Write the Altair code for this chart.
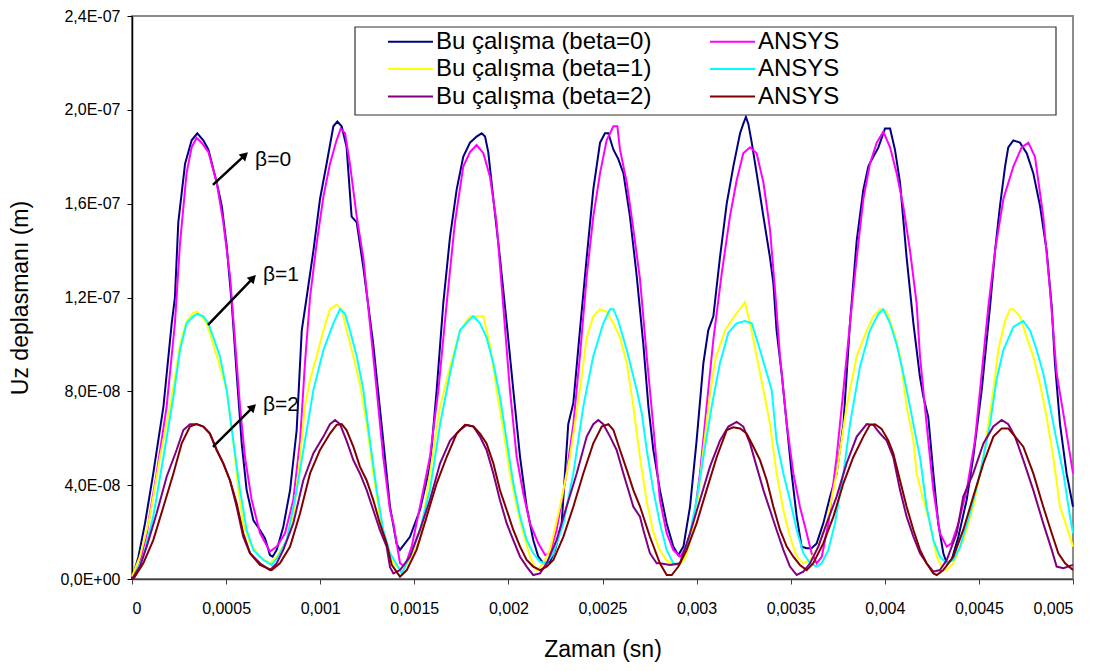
import math
import altair as alt
import pandas as pd

# Zaman in ms, Uz displacement in units of 1e-8 m
beta0_t = [0.000, 0.034, 0.069, 0.113, 0.167, 0.211, 0.228, 0.246, 0.282, 0.317, 0.347, 0.379, 0.406, 0.450, 0.477,
           0.503, 0.530, 0.556, 0.583, 0.609, 0.645, 0.680, 0.707, 0.733, 0.747, 0.769, 0.804, 0.840, 0.875, 0.902,
           0.928, 0.964, 0.999, 1.034, 1.070, 1.091, 1.114, 1.140, 1.167, 1.194, 1.229, 1.282, 1.335, 1.371, 1.406,
           1.424, 1.477, 1.530, 1.583, 1.619, 1.654, 1.690, 1.725, 1.760, 1.796, 1.831, 1.858, 1.876, 1.893, 1.920,
           1.955, 1.991, 2.026, 2.062, 2.097, 2.132, 2.159, 2.186, 2.221, 2.248, 2.283, 2.318, 2.345, 2.380, 2.416,
           2.451, 2.487, 2.513, 2.531, 2.558, 2.584, 2.611, 2.646, 2.682, 2.717, 2.744, 2.770, 2.805, 2.841, 2.876,
           2.903, 2.930, 2.965, 3.000, 3.036, 3.062, 3.089, 3.124, 3.160, 3.195, 3.231, 3.248, 3.262, 3.275, 3.293,
           3.319, 3.355, 3.390, 3.408, 3.425, 3.452, 3.479, 3.505, 3.532, 3.558, 3.585, 3.611, 3.638, 3.673, 3.709,
           3.744, 3.780, 3.815, 3.851, 3.886, 3.913, 3.939, 3.966, 4.001, 4.028, 4.054, 4.081, 4.116, 4.152, 4.187,
           4.205, 4.231, 4.258, 4.284, 4.311, 4.329, 4.355, 4.391, 4.435, 4.470, 4.515, 4.559, 4.586, 4.612, 4.639,
           4.656, 4.683, 4.718, 4.754, 4.789, 4.825, 4.860, 4.887, 4.904, 4.931, 4.966, 5.000]
beta0_u = [0.00, 0.94, 2.37, 4.50, 7.35, 10.90, 12.00, 15.20, 17.70, 18.70, 19.00, 18.70, 18.30, 16.90, 15.90,
           14.20, 11.75, 8.77, 5.78, 3.80, 2.50, 2.09, 1.73, 1.02, 0.95, 1.24, 2.23, 3.79, 6.35, 10.60,
           12.00, 14.00, 16.20, 17.70, 19.30, 19.50, 19.30, 18.43, 15.45, 15.20, 13.30, 10.00, 5.90, 3.08, 1.50,
           1.24, 1.80, 2.94, 4.79, 8.06, 11.75, 14.60, 16.60, 18.00, 18.60, 18.86, 19.00, 18.86, 18.20, 16.20,
           13.70, 10.90, 8.06, 5.20, 3.08, 1.66, 0.95, 0.67, 0.74, 1.24, 2.37, 6.60, 7.50, 10.60, 13.70,
           16.60, 18.60, 19.00, 19.00, 18.30, 17.90, 17.30, 15.45, 12.90, 10.00, 7.35, 5.50, 3.79, 2.37, 1.38,
           1.02, 1.38, 3.08, 5.90, 9.20, 10.60, 11.20, 13.70, 16.00, 17.58, 19.00, 19.40, 19.70, 19.40, 18.60,
           17.30, 15.45, 13.70, 12.60, 10.60, 8.77, 6.60, 4.50, 2.66, 1.38, 1.31, 1.31, 1.52, 2.37, 3.51,
           4.50, 6.60, 10.90, 14.45, 16.60, 17.60, 18.00, 18.40, 19.20, 19.20, 18.30, 16.90, 13.70, 10.90, 8.60,
           7.77, 6.90, 4.50, 2.37, 1.10, 0.67, 0.81, 1.80, 3.37, 5.20, 8.06, 11.60, 14.00, 15.90, 17.58,
           18.40, 18.70, 18.60, 18.15, 17.30, 15.90, 14.00, 11.60, 9.20, 6.60, 4.50, 3.08]

ansys0_t = [0.007, 0.042, 0.078, 0.131, 0.184, 0.228, 0.255, 0.290, 0.317, 0.343, 0.370, 0.406, 0.450, 0.485, 0.521,
            0.547, 0.574, 0.600, 0.636, 0.680, 0.733, 0.769, 0.813, 0.857, 0.893, 0.919, 0.946, 0.981, 1.017, 1.052,
            1.087, 1.109, 1.132, 1.158, 1.194, 1.229, 1.264, 1.300, 1.335, 1.371, 1.389, 1.424, 1.450, 1.486, 1.530,
            1.583, 1.628, 1.672, 1.716, 1.760, 1.796, 1.831, 1.867, 1.902, 1.937, 1.973, 2.008, 2.044, 2.079, 2.115,
            2.159, 2.195, 2.221, 2.256, 2.309, 2.345, 2.380, 2.416, 2.451, 2.487, 2.522, 2.558, 2.579, 2.593, 2.629,
            2.664, 2.699, 2.735, 2.770, 2.805, 2.841, 2.876, 2.912, 2.947, 2.983, 3.018, 3.053, 3.089, 3.133, 3.177,
            3.213, 3.248, 3.284, 3.319, 3.355, 3.390, 3.417, 3.443, 3.479, 3.514, 3.549, 3.585, 3.611, 3.638, 3.665,
            3.700, 3.744, 3.780, 3.815, 3.851, 3.886, 3.921, 3.957, 3.992, 4.028, 4.063, 4.098, 4.134, 4.169, 4.187,
            4.222, 4.258, 4.293, 4.329, 4.355, 4.391, 4.435, 4.479, 4.515, 4.550, 4.586, 4.630, 4.683, 4.727, 4.763,
            4.798, 4.842, 4.878, 4.913, 4.958, 5.000]
ansys0_u = [0.00, 0.67, 1.95, 4.50, 7.35, 10.90, 14.30, 17.30, 18.40, 18.80, 18.60, 18.20, 16.90, 15.20, 12.90,
            10.20, 7.35, 5.20, 3.37, 1.95, 1.17, 1.38, 1.95, 3.37, 5.90, 9.20, 12.00, 14.30, 16.30, 17.70,
            18.70, 19.20, 19.00, 17.70, 15.45, 13.70, 10.90, 8.06, 5.20, 2.94, 2.37, 0.67, 0.53, 1.38, 3.08,
            5.20, 8.06, 11.75, 15.20, 17.58, 18.20, 18.50, 18.15, 17.15, 15.20, 11.60, 8.06, 5.20, 3.65, 2.37,
            1.52, 1.02, 1.10, 2.09, 4.50, 6.60, 9.50, 12.90, 15.45, 17.30, 18.70, 19.30, 19.30, 18.30, 16.90,
            14.90, 12.80, 9.50, 6.50, 3.37, 1.95, 1.24, 0.95, 1.38, 2.37, 4.50, 7.35, 10.20, 13.00, 15.45,
            17.00, 18.15, 18.40, 18.15, 16.90, 14.90, 12.30, 9.50, 6.60, 4.50, 3.08, 1.95, 1.10, 0.67, 0.95,
            2.37, 5.20, 8.06, 10.90, 13.70, 16.20, 17.70, 18.60, 19.07, 18.40, 17.30, 15.90, 14.00, 11.75, 9.50,
            6.60, 3.79, 1.95, 1.38, 1.52, 2.37, 3.79, 5.90, 8.77, 11.60, 14.00, 16.20, 17.58, 18.40, 18.60,
            18.00, 15.45, 12.30, 8.77, 6.60, 4.50]

beta1_t = [0.000, 0.042, 0.095, 0.149, 0.202, 0.237, 0.255, 0.290, 0.326, 0.347, 0.370, 0.397, 0.432, 0.467, 0.503,
           0.538, 0.565, 0.591, 0.627, 0.680, 0.733, 0.769, 0.822, 0.857, 0.893, 0.919, 0.946, 0.981, 1.017, 1.052,
           1.087, 1.114, 1.140, 1.176, 1.211, 1.247, 1.282, 1.317, 1.353, 1.389, 1.433, 1.477, 1.530, 1.583, 1.637,
           1.690, 1.743, 1.796, 1.831, 1.867, 1.902, 1.937, 1.973, 2.008, 2.044, 2.079, 2.115, 2.150, 2.186, 2.221,
           2.274, 2.327, 2.380, 2.416, 2.451, 2.487, 2.522, 2.558, 2.593, 2.629, 2.664, 2.699, 2.735, 2.770, 2.800,
           2.840, 2.876, 2.910, 2.940, 2.965, 3.000, 3.036, 3.070, 3.100, 3.151, 3.200, 3.257, 3.284, 3.319, 3.355,
           3.390, 3.425, 3.461, 3.496, 3.532, 3.567, 3.603, 3.638, 3.691, 3.744, 3.797, 3.851, 3.904, 3.939, 3.975,
           4.010, 4.045, 4.081, 4.116, 4.152, 4.169, 4.205, 4.240, 4.276, 4.302, 4.329, 4.364, 4.417, 4.470, 4.524,
           4.577, 4.603, 4.639, 4.665, 4.683, 4.718, 4.754, 4.789, 4.825, 4.860, 4.895, 4.931, 4.966, 5.000]
beta1_u = [0.10, 0.95, 2.66, 5.20, 7.35, 9.05, 10.00, 11.00, 11.35, 11.40, 11.20, 10.90, 10.00, 9.05, 8.06,
           5.90, 3.79, 2.37, 1.52, 0.95, 0.67, 0.95, 1.66, 2.66, 5.20, 7.35, 8.50, 9.50, 10.60, 11.50,
           11.70, 11.50, 10.60, 9.50, 8.30, 6.60, 4.50, 2.66, 1.38, 0.67, 0.31, 0.81, 1.66, 4.50, 7.35,
           9.05, 10.60, 11.20, 11.20, 11.20, 10.00, 8.06, 6.35, 4.50, 3.08, 1.95, 0.95, 0.38, 0.67, 1.24,
           3.08, 5.20, 8.06, 10.30, 11.20, 11.50, 11.40, 10.90, 10.30, 9.20, 7.35, 5.20, 3.30, 2.00, 1.30,
           0.80, 0.60, 0.60, 0.90, 1.60, 3.00, 5.50, 7.80, 9.40, 10.60, 11.20, 11.80, 10.90, 9.50, 8.06,
           6.60, 4.50, 2.94, 1.80, 0.95, 0.67, 0.81, 1.24, 2.37, 4.50, 7.35, 9.50, 10.60, 11.20, 11.50,
           11.40, 10.60, 9.50, 7.35, 5.90, 4.50, 3.37, 2.37, 0.95, 0.53, 0.38, 0.67, 1.66, 3.08, 5.20,
           8.06, 9.76, 11.00, 11.50, 11.50, 11.20, 10.30, 9.50, 8.30, 6.90, 5.20, 3.08, 2.23, 1.38]

ansys1_t = [0.007, 0.060, 0.113, 0.167, 0.220, 0.255, 0.290, 0.326, 0.347, 0.379, 0.406, 0.432, 0.467, 0.503, 0.538,
            0.574, 0.609, 0.645, 0.698, 0.742, 0.777, 0.822, 0.875, 0.919, 0.964, 1.017, 1.070, 1.105, 1.132, 1.158,
            1.194, 1.229, 1.264, 1.300, 1.335, 1.371, 1.424, 1.433, 1.477, 1.530, 1.583, 1.637, 1.690, 1.743, 1.787,
            1.814, 1.849, 1.884, 1.920, 1.955, 1.991, 2.026, 2.062, 2.097, 2.132, 2.168, 2.203, 2.239, 2.292, 2.345,
            2.398, 2.451, 2.504, 2.540, 2.558, 2.584, 2.629, 2.682, 2.710, 2.735, 2.770, 2.805, 2.841, 2.876, 2.903,
            2.930, 2.965, 3.000, 3.036, 3.080, 3.124, 3.169, 3.213, 3.257, 3.293, 3.337, 3.373, 3.399, 3.425, 3.461,
            3.496, 3.532, 3.567, 3.603, 3.638, 3.665, 3.700, 3.735, 3.780, 3.815, 3.868, 3.921, 3.966, 3.992, 4.028,
            4.063, 4.098, 4.134, 4.169, 4.187, 4.222, 4.258, 4.293, 4.329, 4.364, 4.400, 4.453, 4.506, 4.559, 4.594,
            4.630, 4.683, 4.736, 4.772, 4.807, 4.842, 4.878, 4.913, 4.949, 4.984, 5.000]
ansys1_u = [0.00, 0.95, 2.66, 5.20, 7.77, 9.76, 10.90, 11.20, 11.30, 11.20, 10.90, 10.30, 9.50, 8.06, 5.90,
            3.79, 2.09, 1.24, 0.81, 0.60, 0.95, 1.66, 3.79, 5.90, 8.06, 9.76, 10.90, 11.50, 11.30, 10.60,
            9.50, 8.06, 5.90, 3.79, 2.09, 1.10, 0.38, 0.24, 0.95, 2.09, 3.79, 6.60, 8.77, 10.60, 11.00,
            11.20, 10.90, 10.30, 9.20, 7.77, 5.90, 4.08, 2.66, 1.66, 1.10, 0.74, 0.67, 1.10, 2.37, 4.50,
            7.35, 9.50, 10.90, 11.50, 11.50, 11.00, 9.76, 8.06, 7.00, 5.50, 3.79, 2.37, 1.24, 0.67, 0.60,
            0.95, 1.95, 3.37, 5.20, 7.35, 9.20, 10.50, 10.90, 11.00, 10.90, 9.76, 8.77, 8.06, 5.90, 4.50,
            3.37, 2.09, 1.10, 0.67, 0.53, 0.67, 1.24, 2.37, 4.50, 6.60, 9.05, 10.60, 11.30, 11.50, 10.90,
            10.00, 8.77, 7.35, 5.90, 5.20, 3.08, 1.66, 0.95, 0.67, 0.81, 1.38, 2.80, 4.50, 6.60, 8.50,
            9.76, 10.75, 11.00, 10.60, 9.76, 8.77, 7.35, 5.90, 4.50, 2.66, 1.95]

beta2_t = [0.000, 0.042, 0.078, 0.131, 0.184, 0.237, 0.273, 0.308, 0.343, 0.379, 0.414, 0.450, 0.485, 0.521, 0.556,
           0.591, 0.627, 0.680, 0.733, 0.769, 0.804, 0.857, 0.910, 0.964, 1.017, 1.052, 1.079, 1.105, 1.140, 1.176,
           1.211, 1.247, 1.282, 1.317, 1.353, 1.371, 1.389, 1.424, 1.477, 1.530, 1.583, 1.637, 1.690, 1.743, 1.778,
           1.814, 1.849, 1.884, 1.920, 1.955, 1.991, 2.026, 2.062, 2.097, 2.132, 2.168, 2.203, 2.256, 2.309, 2.363,
           2.416, 2.451, 2.478, 2.504, 2.540, 2.575, 2.611, 2.664, 2.699, 2.717, 2.752, 2.788, 2.805, 2.859, 2.912,
           2.965, 3.018, 3.071, 3.124, 3.169, 3.213, 3.248, 3.284, 3.319, 3.355, 3.390, 3.425, 3.461, 3.496, 3.532,
           3.567, 3.603, 3.647, 3.691, 3.744, 3.797, 3.851, 3.904, 3.939, 3.975, 4.010, 4.045, 4.081, 4.116, 4.152,
           4.187, 4.222, 4.258, 4.293, 4.329, 4.382, 4.417, 4.470, 4.524, 4.577, 4.621, 4.656, 4.692, 4.736, 4.789,
           4.842, 4.887, 4.913, 4.949, 5.000]
beta2_u = [0.00, 0.53, 1.38, 2.80, 4.36, 5.50, 6.35, 6.60, 6.60, 6.50, 6.20, 5.50, 4.93, 4.20, 3.08,
           1.80, 1.10, 0.67, 0.38, 0.67, 1.24, 2.37, 4.20, 5.36, 6.07, 6.60, 6.78, 6.60, 5.90, 5.07,
           4.50, 3.79, 2.94, 2.09, 1.38, 0.50, 0.24, 0.38, 0.95, 2.09, 3.37, 4.93, 5.90, 6.35, 6.57,
           6.50, 6.07, 5.50, 4.50, 3.37, 2.37, 1.66, 0.95, 0.53, 0.17, 0.24, 0.67, 1.66, 3.08, 4.50,
           6.07, 6.60, 6.78, 6.60, 6.07, 5.50, 4.50, 3.08, 2.66, 2.09, 1.10, 0.67, 0.67, 0.60, 0.67,
           1.95, 3.37, 4.79, 5.90, 6.50, 6.70, 6.50, 5.78, 4.79, 3.79, 2.94, 2.09, 1.24, 0.53, 0.17,
           0.31, 0.67, 1.38, 2.37, 3.51, 4.93, 6.07, 6.60, 6.57, 6.20, 5.90, 5.20, 3.79, 2.66, 1.80,
           1.10, 0.67, 0.31, 0.38, 0.81, 1.95, 3.51, 4.50, 5.78, 6.50, 6.78, 6.60, 6.07, 5.07, 3.79,
           2.37, 1.24, 0.53, 0.46, 0.60]

ansys2_t = [0.007, 0.060, 0.113, 0.167, 0.220, 0.264, 0.308, 0.343, 0.379, 0.414, 0.450, 0.485, 0.521, 0.556, 0.591,
            0.627, 0.680, 0.742, 0.786, 0.840, 0.893, 0.946, 0.999, 1.052, 1.087, 1.114, 1.140, 1.176, 1.211, 1.247,
            1.282, 1.317, 1.353, 1.380, 1.424, 1.460, 1.512, 1.566, 1.619, 1.672, 1.725, 1.769, 1.814, 1.849, 1.884,
            1.920, 1.955, 1.991, 2.026, 2.062, 2.097, 2.132, 2.168, 2.203, 2.239, 2.292, 2.345, 2.398, 2.451, 2.496,
            2.531, 2.558, 2.593, 2.629, 2.664, 2.699, 2.752, 2.805, 2.841, 2.868, 2.903, 2.947, 3.000, 3.053, 3.107,
            3.160, 3.195, 3.231, 3.266, 3.302, 3.337, 3.373, 3.408, 3.443, 3.479, 3.514, 3.549, 3.585, 3.620, 3.673,
            3.727, 3.780, 3.833, 3.886, 3.921, 3.948, 3.983, 4.019, 4.045, 4.081, 4.116, 4.152, 4.187, 4.222, 4.258,
            4.276, 4.311, 4.364, 4.417, 4.470, 4.524, 4.577, 4.621, 4.656, 4.692, 4.736, 4.789, 4.842, 4.887, 4.922,
            4.958, 5.000]
ansys2_u = [0.00, 0.67, 1.66, 3.08, 4.50, 5.78, 6.50, 6.60, 6.50, 6.20, 5.50, 4.93, 4.20, 3.23, 1.95,
            1.10, 0.60, 0.38, 0.67, 1.38, 2.80, 4.50, 5.50, 6.20, 6.57, 6.60, 6.35, 5.64, 4.79, 4.20,
            3.37, 2.37, 1.52, 0.60, 0.10, 0.38, 1.24, 2.66, 4.08, 5.20, 6.20, 6.57, 6.50, 6.20, 5.78,
            4.93, 3.79, 2.94, 2.09, 1.38, 0.81, 0.53, 0.38, 0.53, 0.81, 1.80, 3.08, 4.50, 5.78, 6.50,
            6.60, 6.35, 5.50, 4.65, 3.79, 3.10, 1.80, 0.67, 0.17, 0.17, 0.53, 1.24, 2.37, 3.79, 5.20,
            6.35, 6.47, 6.42, 6.20, 5.64, 5.07, 4.20, 3.08, 2.09, 1.38, 0.95, 0.60, 0.38, 0.67, 1.52,
            2.66, 4.08, 5.20, 6.07, 6.57, 6.60, 6.40, 5.90, 5.36, 4.20, 3.08, 2.09, 1.24, 0.67, 0.24,
            0.17, 0.38, 0.95, 2.09, 3.51, 4.93, 6.07, 6.42, 6.42, 6.07, 5.64, 4.50, 3.08, 1.95, 1.10,
            0.67, 0.38]

# drawing order of the six curves
series_names = ["Bu çalışma (beta=0)", "ANSYS (beta=0)",
                "Bu çalışma (beta=1)", "ANSYS (beta=1)",
                "Bu çalışma (beta=2)", "ANSYS (beta=2)"]
series_colors = ["#000080", "#FF00FF", "#FFFF00", "#00FFFF", "#800080", "#800000"]
series_data = [(beta0_t, beta0_u), (ansys0_t, ansys0_u),
               (beta1_t, beta1_u), (ansys1_t, ansys1_u),
               (beta2_t, beta2_u), (ansys2_t, ansys2_u)]

# legend fills column by column: this study on the left, ANSYS on the right
legend_order = [0, 2, 4, 1, 3, 5]

# beta annotations: arrow start, arrow end, label anchor (ms, 1e-8 m)
beta_labels = ["β=0", "β=1", "β=2"]
arrow_t0 = [0.430, 0.404, 0.430]
arrow_u0 = [16.80, 10.83, 5.63]
arrow_t1 = [0.600, 0.643, 0.643]
arrow_u1 = [18.07, 12.83, 7.33]
label_t = [0.654, 0.696, 0.696]
label_u = [17.86, 12.96, 7.42]

x_ticks = [0, 0.0005, 0.001, 0.0015, 0.002, 0.0025, 0.003, 0.0035, 0.004, 0.0045, 0.005]
y_ticks = [0, 4e-8, 8e-8, 1.2e-7, 1.6e-7, 2.0e-7, 2.4e-7]

FONT = "Liberation Sans"
W, H = 941, 563
X_MAX, Y_MAX = 0.005, 2.4e-7

rows = []
for name, (ts, us) in zip(series_names, series_data):
    for i, (t, u) in enumerate(zip(ts, us)):
        rows.append({"series": name, "t": t * 1e-3, "u": u * 1e-8, "i": i})
df = pd.DataFrame(rows)

ann_rows = []
for lab, t0, u0, t1, u1, lt, lu in zip(beta_labels, arrow_t0, arrow_u0, arrow_t1, arrow_u1, label_t, label_u):
    dx = (t1 - t0) * 1e-3 / X_MAX * W
    dy = (u1 - u0) * 1e-8 / Y_MAX * H
    ann_rows.append({
        "label": lab,
        "t0": t0 * 1e-3, "u0": u0 * 1e-8,
        "t1": t1 * 1e-3, "u1": u1 * 1e-8,
        "lt": lt * 1e-3, "lu": lu * 1e-8,
        "angle": 90 - math.degrees(math.atan2(dy, dx)),
    })
ann = pd.DataFrame(ann_rows)

x_scale = alt.Scale(domain=[0, X_MAX], nice=False, zero=False)
y_scale = alt.Scale(domain=[0, Y_MAX], nice=False)

x_axis = alt.Axis(
    title="Zaman (sn)", values=x_ticks, grid=False, tickSize=5, labelPadding=16,
    labelExpr="replace(format(datum.value, '~g'), '.', ',')",
    domainColor="#404040", domainWidth=1.5, tickColor="#404040",
    titleX=W / 2, titleY=70, titleBaseline="middle",
)
y_axis = alt.Axis(
    title="Uz deplasmanı (m)", values=y_ticks, grid=False, tickSize=5, labelPadding=7,
    labelExpr=("datum.value == 0 ? '0,0E+00' : "
               "replace(format(datum.value / pow(10, floor(log(datum.value) / LN10)), '.1f'), '.', ',')"
               " + 'E-' + format(-floor(log(datum.value) / LN10), '02d')"),
    domainColor="#000000", domainWidth=1.5, tickColor="#000000",
    titleX=-112, titleY=H / 2, titleAngle=270, titleAlign="center", titleBaseline="middle",
)

# a wide, flat line swatch: the path spans twice the symbol's nominal size
legend = alt.Legend(
    title=None, orient="none", legendX=266, legendY=13, columns=2, columnPadding=54,
    rowPadding=2.5, symbolType="M-2,0H2", symbolSize=506, symbolStrokeWidth=2,
    labelFont=FONT, labelFontSize=24, labelOffset=13, labelLimit=400, padding=0,
    labelColor="black",
    labelExpr="indexof(datum.label, 'ANSYS') == 0 ? 'ANSYS' : datum.label",
)

lines = alt.Chart(df).mark_line(strokeWidth=2).encode(
    x=alt.X("t:Q", scale=x_scale, axis=x_axis),
    y=alt.Y("u:Q", scale=y_scale, axis=y_axis),
    color=alt.Color("series:N",
                    scale=alt.Scale(domain=[series_names[k] for k in legend_order],
                                    range=[series_colors[k] for k in legend_order]),
                    legend=legend),
    order="i:Q",
)

legend_box = alt.Chart(pd.DataFrame({"k": [0]})).mark_rect(
    fill="white", stroke="#333333", strokeWidth=1.2
).encode(x=alt.value(223), x2=alt.value(924), y=alt.value(11), y2=alt.value(99))

shafts = alt.Chart(ann).mark_rule(color="black", strokeWidth=2.5).encode(
    x=alt.X("t0:Q", scale=x_scale, axis=x_axis),
    y=alt.Y("u0:Q", scale=y_scale, axis=y_axis),
    x2="t1:Q", y2="u1:Q",
)
heads = alt.Chart(ann).mark_point(shape="triangle-up", filled=True, color="black", size=90, opacity=1).encode(
    x=alt.X("t1:Q", scale=x_scale, axis=x_axis),
    y=alt.Y("u1:Q", scale=y_scale, axis=y_axis),
    angle=alt.Angle("angle:Q", scale=None),
)
texts = alt.Chart(ann).mark_text(align="left", baseline="middle", font=FONT, fontSize=21, color="black").encode(
    x=alt.X("lt:Q", scale=x_scale, axis=x_axis),
    y=alt.Y("lu:Q", scale=y_scale, axis=y_axis),
    text="label:N",
)

chart = alt.layer(lines, legend_box, shafts, heads, texts).properties(
    width=W, height=H,
    autosize=alt.AutoSizeParams(type="none"),
    padding={"left": 132, "top": 16, "right": 41, "bottom": 92},
    background="white",
).configure_axis(
    labelFont=FONT, labelFontSize=16, labelColor="black",
    titleFont=FONT, titleFontSize=23, titleFontWeight="normal", titleColor="black",
).configure_view(stroke="#8c8c8c", strokeWidth=2)

chart.save("out.html", embed_options={"renderer": "svg", "actions": False})
